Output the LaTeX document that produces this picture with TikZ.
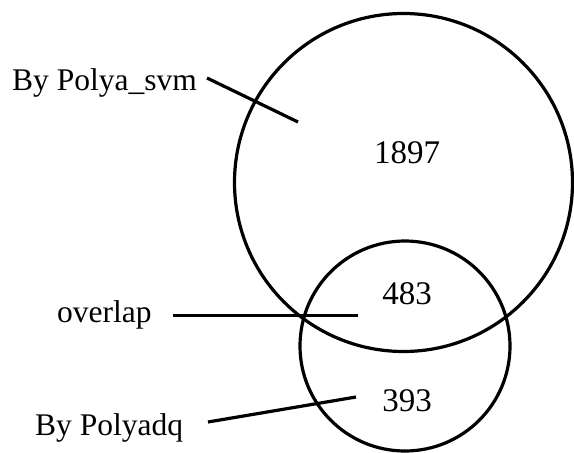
\documentclass[tikz,border=0pt]{standalone}
\usepackage{fontspec}
\setmainfont{Liberation Serif}
\begin{document}
\begin{tikzpicture}[x=1pt,y=-1pt,
  lbl/.style={inner sep=0pt,anchor=base west,font=\fontsize{31.5}{36}\selectfont},
  num/.style={inner sep=0pt,anchor=base,font=\fontsize{33}{38}\selectfont},
  ring/.style={draw=black,line width=3.2pt,circle,inner sep=0pt},
  conn/.style={draw=black,line width=3.2pt}]
\useasboundingbox (0,0) rectangle (574,453);
\node[ring,minimum size=338pt] (big) at (403.5,182.5) {};
\node[ring,minimum size=210pt] (small) at (405,346) {};
\node[lbl] (svm) at (12,90.5) {By Polya\_svm};
\node[lbl] (ov) at (57,322) {overlap};
\node[lbl] (dq) at (35,435) {By Polyadq};
\node[num] (n1) at (407,163) {1897};
\node[num] (n2) at (407,304) {483};
\node[num] (n3) at (407,411) {393};
\coordinate (a1) at (207,78);
\coordinate (a2) at (298,122);
\coordinate (b1) at (173,315.5);
\coordinate (b2) at (358,315.5);
\coordinate (c1) at (208,422);
\coordinate (c2) at (356,397);
\draw[conn] (a1) -- (a2);
\draw[conn] (b1) -- (b2);
\draw[conn] (c1) -- (c2);
\end{tikzpicture}
\end{document}
